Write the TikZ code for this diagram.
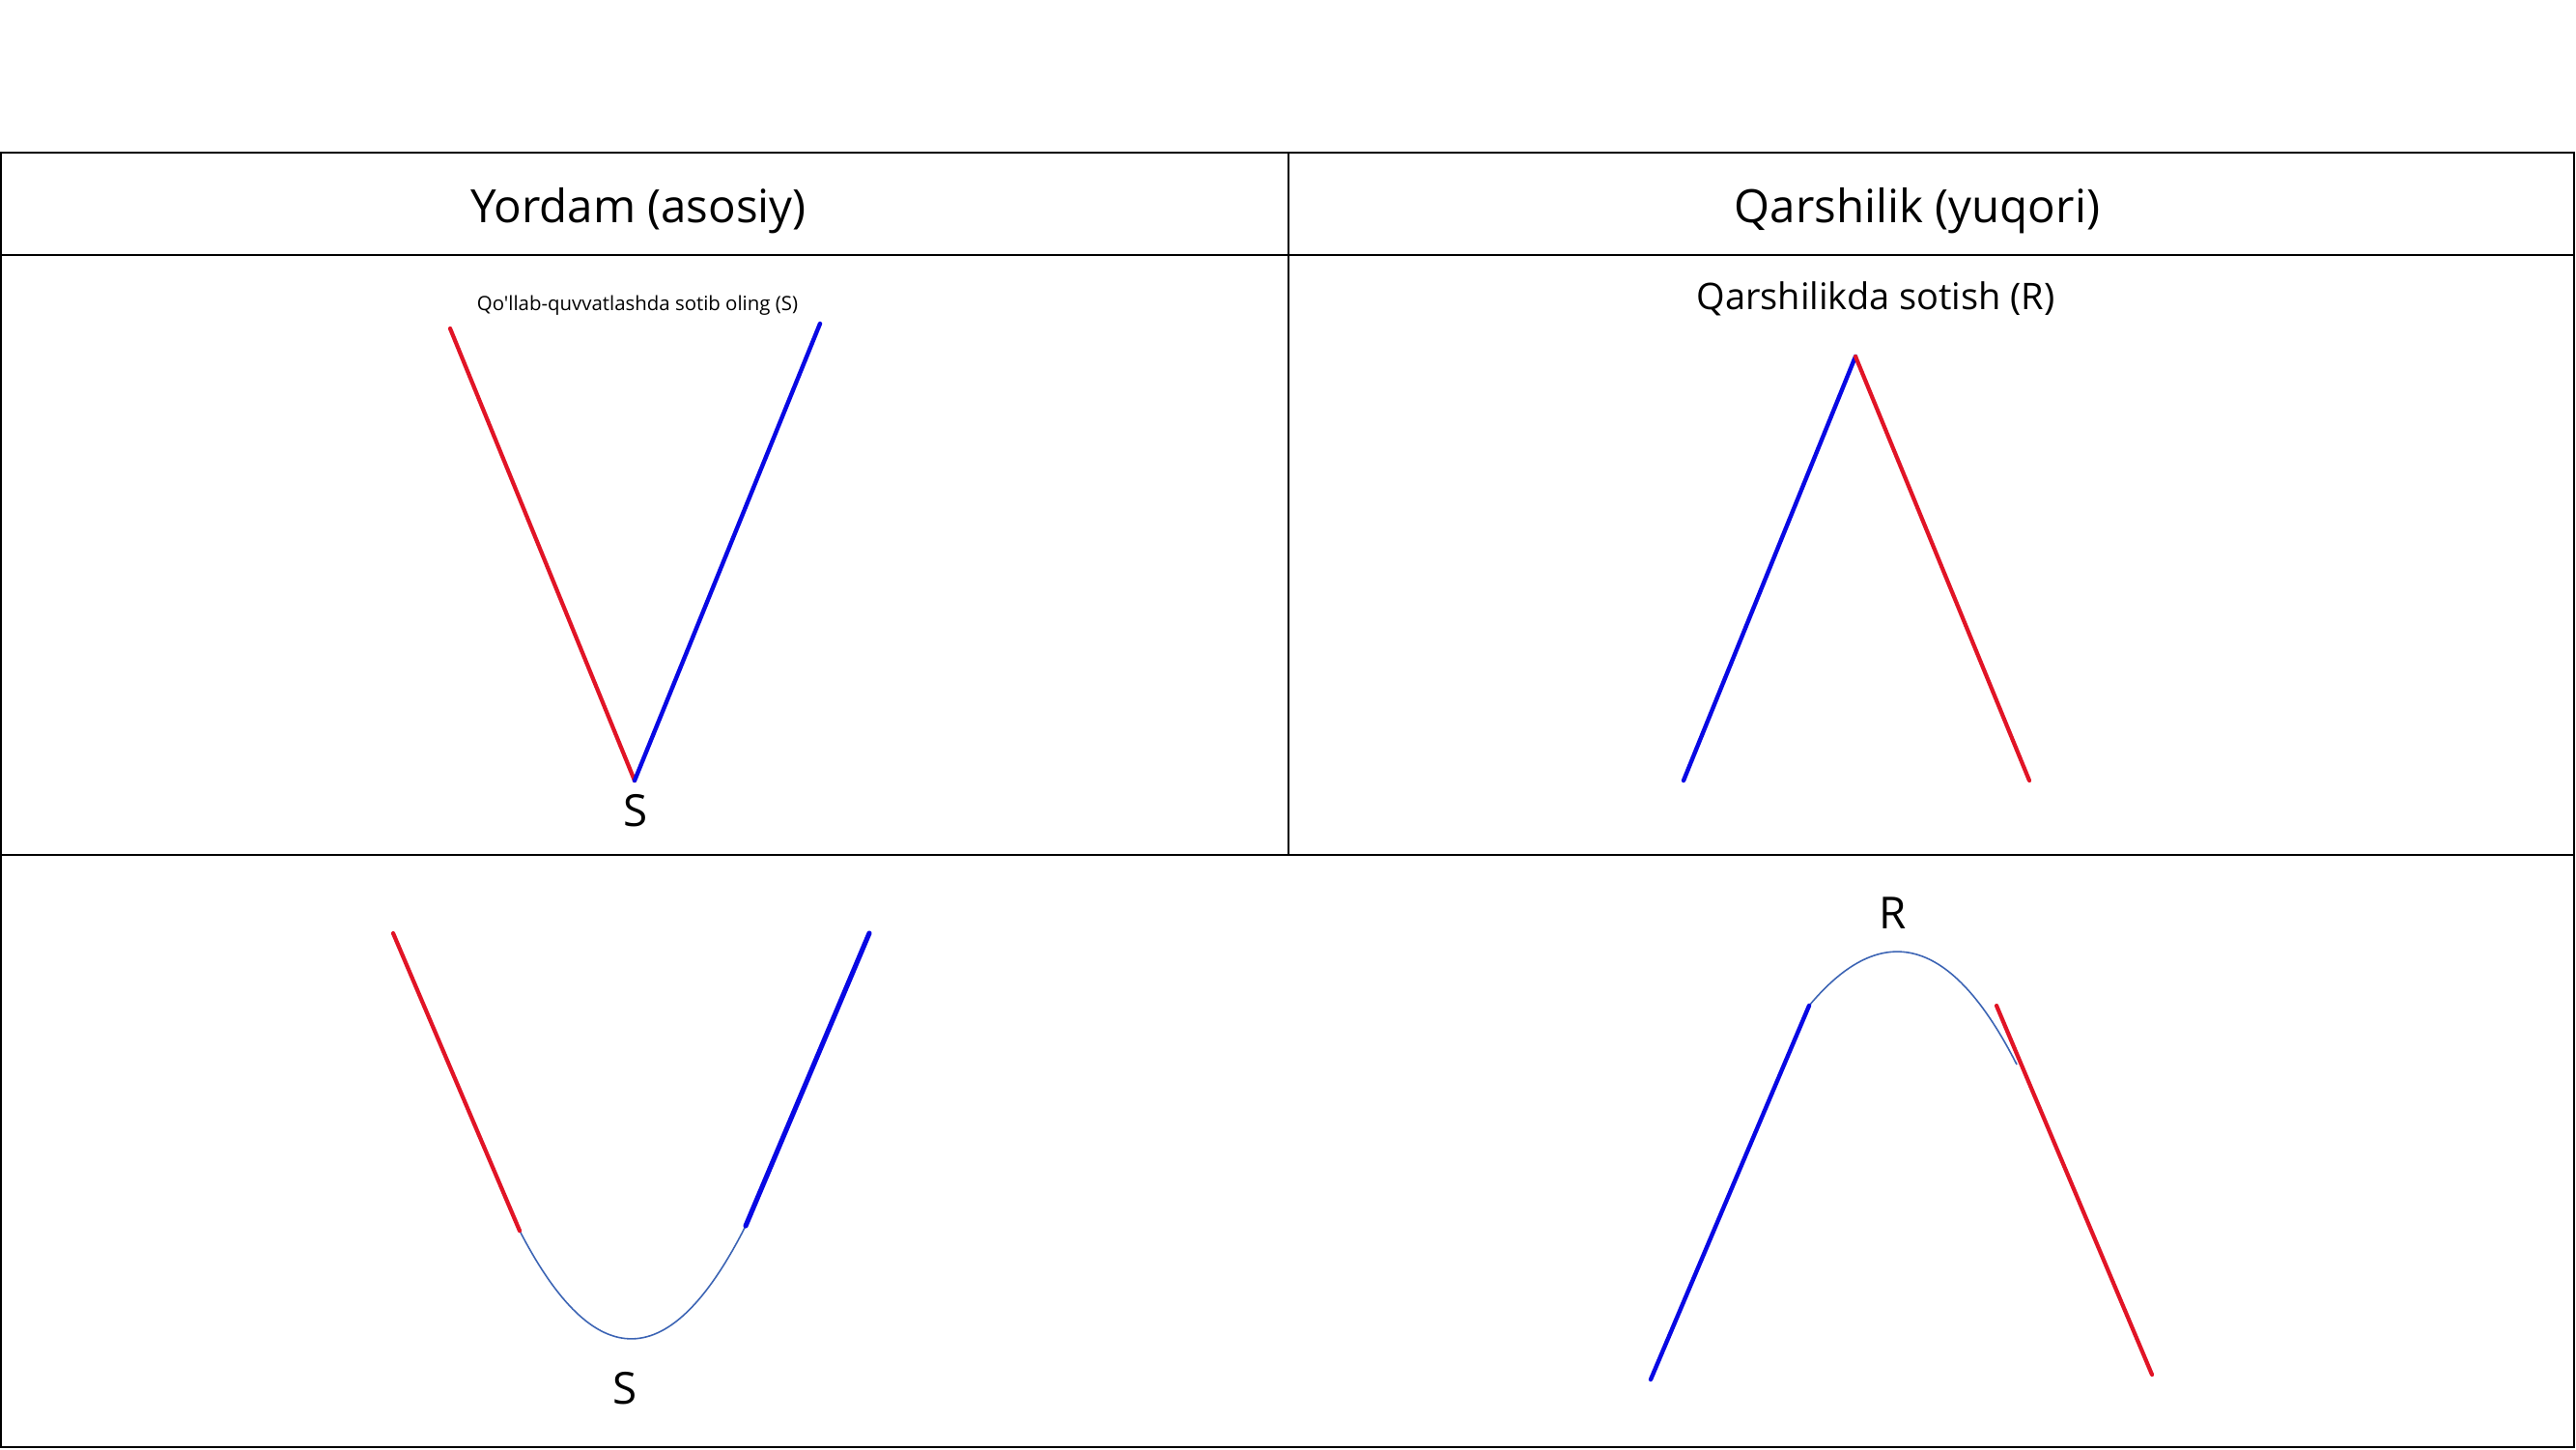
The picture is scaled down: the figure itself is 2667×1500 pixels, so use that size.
\documentclass[tikz,border=0pt]{standalone}
\usepackage{fontspec}
\setmainfont{Open Sans}
\newfontfamily\plainfont{Open Sans}[Ligatures=TeXOff]
\definecolor{lred}{RGB}{225,20,38}
\definecolor{lblue}{RGB}{8,8,228}
\definecolor{cblue}{RGB}{60,100,180}
\begin{document}
\begin{tikzpicture}[x=0.01cm,y=-0.01cm,
  frame/.style={draw=black,line width=0.7pt},
  redline/.style={draw=lred,line width=1.2pt,line cap=round},
  blueline/.style={draw=lblue,line width=1.25pt,line cap=round},
  curveline/.style={draw=cblue,line width=0.45pt},
  head/.style={font=\fontsize{13.5}{16}\selectfont,inner sep=0pt},
  lbl/.style={font=\fontsize{13}{15}\selectfont,inner sep=0pt}]
\useasboundingbox (0,0) rectangle (2667,1500);
% table
\draw[frame] (1,158) rectangle (2665,1498);
\draw[frame] (1,264) -- (2665,264);
\draw[frame] (1,885) -- (2665,885);
\draw[frame] (1334,158) -- (1334,885);
% headers
\node[head] (h1) at (661,218) {Yordam (asosiy)};
\node[head] (h2) at (1985,218) {Qarshilik (yuqori)};
% top-left panel
\node[font=\plainfont\fontsize{5.8}{7}\selectfont,inner sep=0pt] (c1) at (660,316) {Qo'llab-quvvatlashda sotib oling (S)};
\coordinate (a1) at (466,340);
\coordinate (a2) at (657,808);
\coordinate (a3) at (849,335);
\draw[redline] (a1) -- (a2);
\draw[blueline] (a2) -- (a3);
\node[lbl] (s1) at (658,839) {S};
% top-right panel
\node[font=\fontsize{10.8}{13}\selectfont,inner sep=0pt] (c2) at (1942,309) {Qarshilikda sotish (R)};
\coordinate (b1) at (1743,808);
\coordinate (b2) at (1921,369);
\coordinate (b3) at (2101,808);
\draw[blueline] (b1) -- (b2);
\draw[redline] (b2) -- (b3);
% bottom-left panel
\coordinate (d1) at (407,966);
\coordinate (d2) at (538,1274);
\coordinate (d3) at (772,1269);
\coordinate (d4) at (900,966);
\draw[curveline] (d2) .. controls (616,1425) and (694,1423) .. (d3);
\draw[redline] (d1) -- (d2);
\draw[blueline,line width=1.45pt] (d3) -- (d4);
\node[lbl] (s2) at (647,1437) {S};
% bottom-right panel
\coordinate (e1) at (1709,1428);
\coordinate (e2) at (1873,1041);
\coordinate (e3) at (2088,1102);
\coordinate (e4) at (2067,1041);
\coordinate (e5) at (2228,1423);
\draw[curveline] (e2) .. controls (1949,950) and (2021,970) .. (e3);
\draw[blueline] (e1) -- (e2);
\draw[redline] (e4) -- (e5);
\node[lbl] (r1) at (1960,945) {R};
\end{tikzpicture}
\end{document}
